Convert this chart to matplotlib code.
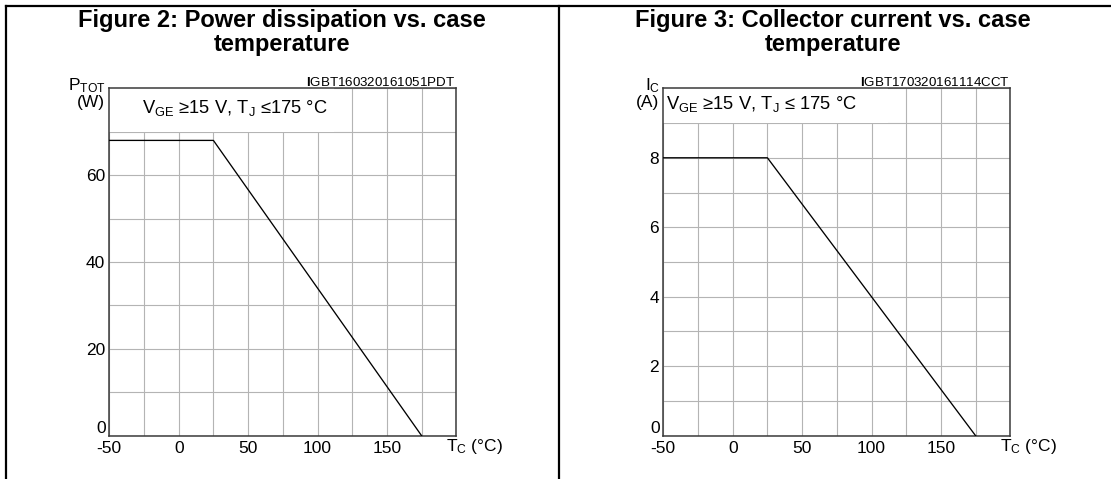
import matplotlib
matplotlib.use("Agg")
import matplotlib.pyplot as plt
from matplotlib.patches import Rectangle
from matplotlib.lines import Line2D

plt.rcParams['font.family'] = ['Liberation Sans', 'DejaVu Sans']
plt.rcParams['mathtext.fontset'] = 'custom'
plt.rcParams['mathtext.rm'] = 'Liberation Sans'
plt.rcParams['mathtext.bf'] = 'Liberation Sans:bold'
plt.rcParams['mathtext.it'] = 'Liberation Sans'

# ---- data ----
temp_c = [-50, 25, 175]
power_w = [68, 68, 0]
current_a = [8, 8, 0]

x_ticks = [-50, 0, 50, 100, 150]
x_grid = [-50, -25, 0, 25, 50, 75, 100, 125, 150, 175, 200]
p_ticks = [0, 20, 40, 60]
i_ticks = [0, 2, 4, 6, 8]

W, H = 1111, 479
fig = plt.figure(figsize=(W / 100, H / 100), dpi=100)

def fx(x):
    return x / W

def fy(y):
    return 1 - y / H

# frame lines
fig.add_artist(Line2D([fx(6), fx(W)], [fy(6), fy(6)], color='black', lw=1.6))
fig.add_artist(Line2D([fx(6), fx(6)], [fy(6), 0], color='black', lw=1.6))
fig.add_artist(Line2D([fx(558.5), fx(558.5)], [fy(6), 0], color='black', lw=1.6))

panels = [
    dict(left=109.3, title=["Figure 2: Power dissipation vs. case", "temperature"], tcx=282,
         y=power_w, yticks=p_ticks, ymax=80, ystep=10,
         ylab1=r'P$_{\mathrm{TOT}}$', ylab2='(W)', lab_r=106,
         code=r'$\mathbf{I}$GBT160320161051PDT',
         note=r'V$_{\mathrm{GE}}$ ≥15 V, T$_{\mathrm{J}}$ ≤175 °C', note_x=141.5, note_y=108),
    dict(left=663.3, title=["Figure 3: Collector current vs. case", "temperature"], tcx=833,
         y=current_a, yticks=i_ticks, ymax=10, ystep=1,
         ylab1=r'I$_{\mathrm{C}}$', ylab2='(A)', lab_r=660,
         code=r'$\mathbf{I}$GBT170320161114CCT',
         note=r'V$_{\mathrm{GE}}$ ≥15 V, T$_{\mathrm{J}}$ ≤ 175 °C', note_x=666, note_y=104),
]

ax_w = 347.0
ax_top, ax_bot = 88.3, 435.7

for p in panels:
    ax = fig.add_axes([fx(p['left']), fy(ax_bot), ax_w / W, (ax_bot - ax_top) / H])
    ax.set_xlim(-50, 200)
    ax.set_ylim(0, p['ymax'])
    ax.set_axisbelow(True)
    ax.set_xticks(x_grid)
    ax.set_xticklabels([str(v) if v in x_ticks else '' for v in x_grid])
    ygrid = [k * p['ystep'] for k in range(int(round(p['ymax'] / p['ystep'])) + 1)]
    ax.set_yticks(ygrid)
    ax.set_yticklabels(['' if (v not in p['yticks'] or v == 0) else str(v) for v in ygrid])
    ax.tick_params(length=0, labelsize=12.5, pad=3, colors='black')
    ax.tick_params(axis='x', pad=3.5)
    ax.grid(True, color='#b4b4b4', lw=0.8)
    for s in ax.spines.values():
        s.set_color('#3a3a3a')
        s.set_linewidth(1.1)
    # white box behind the annotation
    ax.add_patch(Rectangle((-50, p['ymax'] - p['ystep']), 162, p['ystep'],
                           facecolor='white', edgecolor='none', zorder=1))
    ax.plot(temp_c, p['y'], color='black', lw=0.95, zorder=3)
    # zero label sits on the axis
    ax.annotate('0', xy=(0, 0), xycoords='axes fraction', xytext=(-3, 0),
                textcoords='offset pixels', ha='right', va='bottom', fontsize=12.5)
    # x unit label
    ax.annotate(r'T$_{\mathrm{C}}$ (°C)', xy=(1, 0), xycoords='axes fraction',
                xytext=(-10, -11), textcoords='offset pixels', ha='left', va='center',
                fontsize=12.5)
    # titles
    fig.text(fx(p['tcx']), fy(21), p['title'][0], ha='center', va='center',
             fontsize=17, fontweight='bold')
    fig.text(fx(p['tcx']), fy(45), p['title'][1], ha='center', va='center',
             fontsize=17, fontweight='bold')
    # code
    fig.text(fx(p['left'] + ax_w - 1), fy(82), p['code'], ha='right', va='center',
             fontsize=9.6)
    # y label
    fig.text(fx(p['lab_r']), fy(90), p['ylab1'], ha='right', va='baseline', fontsize=12.5)
    fig.text(fx(p['lab_r'] - 1), fy(102), p['ylab2'], ha='right', va='center', fontsize=12.5)
    # condition note
    fig.text(fx(p['note_x']), fy(p['note_y']), p['note'], ha='left', va='center',
             fontsize=13.2)

fig.savefig('out.png', dpi=100)
